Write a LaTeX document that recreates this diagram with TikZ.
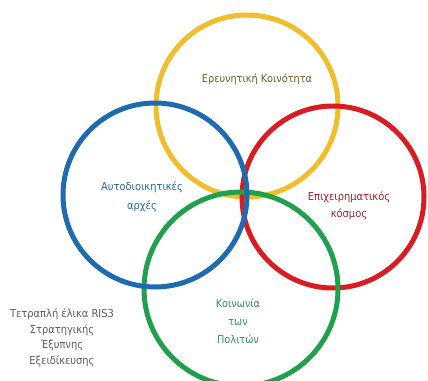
\documentclass[tikz,border=0pt]{standalone}
\usepackage{fontspec}
\setmainfont{DejaVu Sans Condensed}
\definecolor{cyel}{HTML}{F0BE2A}
\definecolor{cblue}{HTML}{1F6BB0}
\definecolor{cred}{HTML}{D91C22}
\definecolor{cgreen}{HTML}{1EA04C}
\definecolor{tyel}{HTML}{6E6128}
\definecolor{tblue}{HTML}{2A69A2}
\definecolor{tred}{HTML}{A0232B}
\definecolor{tgreen}{HTML}{2F9554}
\definecolor{tgrey}{HTML}{5E5E5E}
\tikzset{
  ring/.style={line width=5pt},
  lbl/.style={align=center, font=\fontsize{10.8}{18}\selectfont, inner sep=0pt}
}
\begin{document}
\begin{tikzpicture}[x=1pt,y=-1pt]
\useasboundingbox (0,0) rectangle (428,380);
\clip (0,0) rectangle (428,380);
\fill[white] (0,0) rectangle (428,380);
\draw[ring, cyel] (247,106) circle[radius=91];
\draw[ring, cred] (333,197) circle[radius=91];
\draw[ring, cgreen] (241,289) circle[radius=97];
\draw[ring, cblue] (155,195) circle[radius=92];
\node[lbl, text=tyel] (yt) at (257,79) {Ερευνητική Κοινότητα};
\node[lbl, text=tblue, font=\fontsize{11}{19}\selectfont] (bt) at (142,197) {Αυτοδιοικητικές\\αρχές};
\node[lbl, text=tred, font=\fontsize{11}{17}\selectfont] (rt) at (349,206) {Επιχειρηματικός\\κόσμος};
\node[lbl, text=tgreen] (gt) at (238,321) {Κοινωνία\\των\\Πολιτών};
\node[lbl, text=tgrey, font=\fontsize{11}{15.5}\selectfont] (st) at (62,338) {Τετραπλή έλικα RIS3\\Στρατηγικής\\Έξυπνης\\Εξειδίκευσης};
\end{tikzpicture}
\end{document}
